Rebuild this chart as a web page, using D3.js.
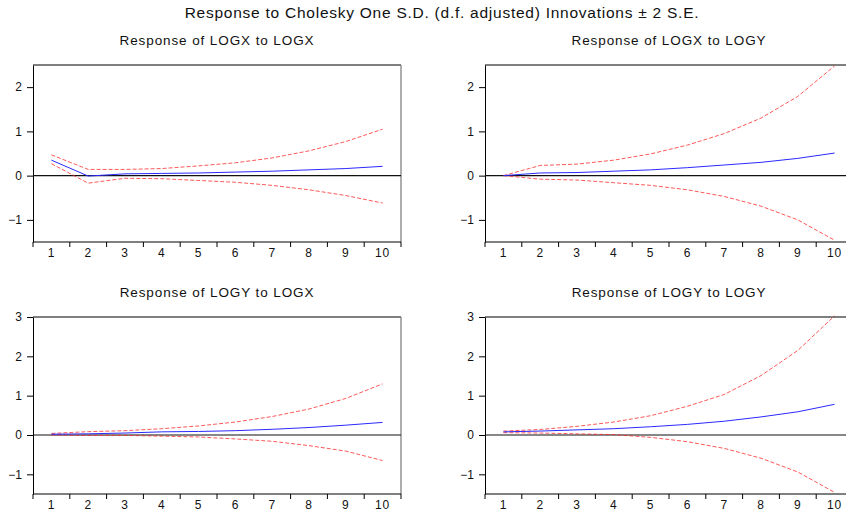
<!DOCTYPE html>
<html>
<head>
<meta charset="utf-8">
<script src="https://cdn.jsdelivr.net/npm/d3@7"></script>
<style>
  body { margin: 0; background: #fff; }
  svg { display: block; font-family: "Liberation Sans", Arial, sans-serif; }
</style>
</head>
<body>
<svg width="846" height="510"></svg>
<script>
// periods
var periods = [1, 2, 3, 4, 5, 6, 7, 8, 9, 10];

// Response of LOGX to LOGX
var xxResp  = [0.35, -0.01, 0.04, 0.05, 0.06, 0.08, 0.10, 0.13, 0.16, 0.21];
var xxUpper = [0.47, 0.14, 0.14, 0.16, 0.22, 0.29, 0.40, 0.56, 0.77, 1.05];
var xxLower = [0.27, -0.17, -0.06, -0.07, -0.11, -0.15, -0.22, -0.32, -0.45, -0.62];

// Response of LOGX to LOGY
var xyResp  = [0.00, 0.06, 0.07, 0.10, 0.13, 0.18, 0.24, 0.30, 0.39, 0.51];
var xyUpper = [0.00, 0.23, 0.26, 0.35, 0.49, 0.69, 0.95, 1.30, 1.79, 2.48];
var xyLower = [0.00, -0.08, -0.10, -0.16, -0.22, -0.32, -0.47, -0.69, -1.00, -1.46];

// Response of LOGY to LOGX
var yxResp  = [0.02, 0.03, 0.05, 0.08, 0.09, 0.11, 0.145, 0.19, 0.25, 0.32];
var yxUpper = [0.04, 0.085, 0.11, 0.16, 0.23, 0.33, 0.47, 0.66, 0.93, 1.30];
var yxLower = [0.00, -0.01, -0.01, -0.03, -0.05, -0.10, -0.16, -0.27, -0.41, -0.65];

// Response of LOGY to LOGY
var yyResp  = [0.08, 0.10, 0.13, 0.16, 0.21, 0.27, 0.35, 0.46, 0.59, 0.78];
var yyUpper = [0.10, 0.14, 0.22, 0.33, 0.49, 0.73, 1.03, 1.51, 2.15, 3.03];
var yyLower = [0.06, 0.05, 0.03, 0.01, -0.06, -0.17, -0.34, -0.59, -0.94, -1.46];

var mainTitle = "Response to Cholesky One S.D. (d.f. adjusted) Innovations \u00b1 2 S.E.";

var panels = [
  {title: "Response of LOGX to LOGX", resp: xxResp, upper: xxUpper, lower: xxLower,
   yDomain: [-1.5, 2.5], yTicks: [-1, 0, 1, 2], left: 33, top: 65},
  {title: "Response of LOGX to LOGY", resp: xyResp, upper: xyUpper, lower: xyLower,
   yDomain: [-1.5, 2.5], yTicks: [-1, 0, 1, 2], left: 485, top: 65},
  {title: "Response of LOGY to LOGX", resp: yxResp, upper: yxUpper, lower: yxLower,
   yDomain: [-1.5, 3], yTicks: [-1, 0, 1, 2, 3], left: 33, top: 317},
  {title: "Response of LOGY to LOGY", resp: yyResp, upper: yyUpper, lower: yyLower,
   yDomain: [-1.5, 3], yTicks: [-1, 0, 1, 2, 3], left: 485, top: 317}
];

var pw = 368, ph = 177;
var svg = d3.select("svg");

svg.append("text")
  .attr("x", 442).attr("y", 18)
  .attr("text-anchor", "middle")
  .attr("font-size", 15.5)
  .attr("letter-spacing", 0.75)
  .attr("fill", "#111")
  .text(mainTitle);

panels.forEach(function(p) {
  var g = svg.append("g").attr("transform", "translate(" + p.left + "," + p.top + ")");

  var x = d3.scaleBand().domain(periods).range([0, pw]);
  var y = d3.scaleLinear().domain(p.yDomain).range([ph, 0]);

  g.append("text")
    .attr("x", pw / 2).attr("y", -20)
    .attr("text-anchor", "middle")
    .attr("font-size", 13.5)
    .attr("letter-spacing", 0.9)
    .attr("fill", "#111")
    .text(p.title);

  // frame: top and right edges grey
  g.append("line").attr("x1", 0).attr("x2", pw).attr("y1", 0).attr("y2", 0)
    .attr("stroke", "#555").attr("stroke-width", 1.5);
  g.append("line").attr("x1", pw).attr("x2", pw).attr("y1", 0).attr("y2", ph)
    .attr("stroke", "#777").attr("stroke-width", 1.2);

  // y axis
  var yAxis = g.append("g")
    .call(d3.axisLeft(y).tickValues(p.yTicks).tickSize(6).tickSizeOuter(0).tickFormat(d3.format("d")));
  yAxis.select(".domain").attr("stroke", "#000");
  yAxis.selectAll("text").attr("font-size", 12).attr("fill", "#111").attr("x", -11);

  // x axis: ticks on band edges, labels on band centres
  var xg = g.append("g").attr("transform", "translate(0," + ph + ")");
  xg.append("line").attr("x1", 0).attr("x2", pw).attr("stroke", "#000");
  xg.selectAll(".edge")
    .data(d3.range(periods.length + 1))
    .enter().append("line")
    .attr("class", "edge")
    .attr("x1", function(i) { return i * x.step(); })
    .attr("x2", function(i) { return i * x.step(); })
    .attr("y1", 0).attr("y2", 5)
    .attr("stroke", "#000");
  xg.selectAll(".lab")
    .data(periods)
    .enter().append("text")
    .attr("class", "lab")
    .attr("x", function(d) { return x(d) + x.bandwidth() / 2; })
    .attr("y", 14.5)
    .attr("text-anchor", "middle")
    .attr("font-size", 12)
    .attr("letter-spacing", 0.8)
    .attr("fill", "#111")
    .text(function(d) { return d; });

  // zero line
  g.append("line").attr("x1", 0).attr("x2", pw)
    .attr("y1", y(0)).attr("y2", y(0))
    .attr("stroke", "#111").attr("stroke-width", 1.2);

  var line = d3.line()
    .x(function(d, i) { return x(periods[i]) + x.bandwidth() / 2; })
    .y(function(d) { return y(d); });

  [p.upper, p.lower].forEach(function(band) {
    g.append("path").datum(band)
      .attr("d", line)
      .attr("fill", "none")
      .attr("stroke", "#ff2020")
      .attr("stroke-opacity", 0.75)
      .attr("stroke-width", 1)
      .attr("stroke-dasharray", "4,2");
  });

  g.append("path").datum(p.resp)
    .attr("d", line)
    .attr("fill", "none")
    .attr("stroke", "#2a2aff")
    .attr("stroke-width", 1);
});
</script>
</body>
</html>
